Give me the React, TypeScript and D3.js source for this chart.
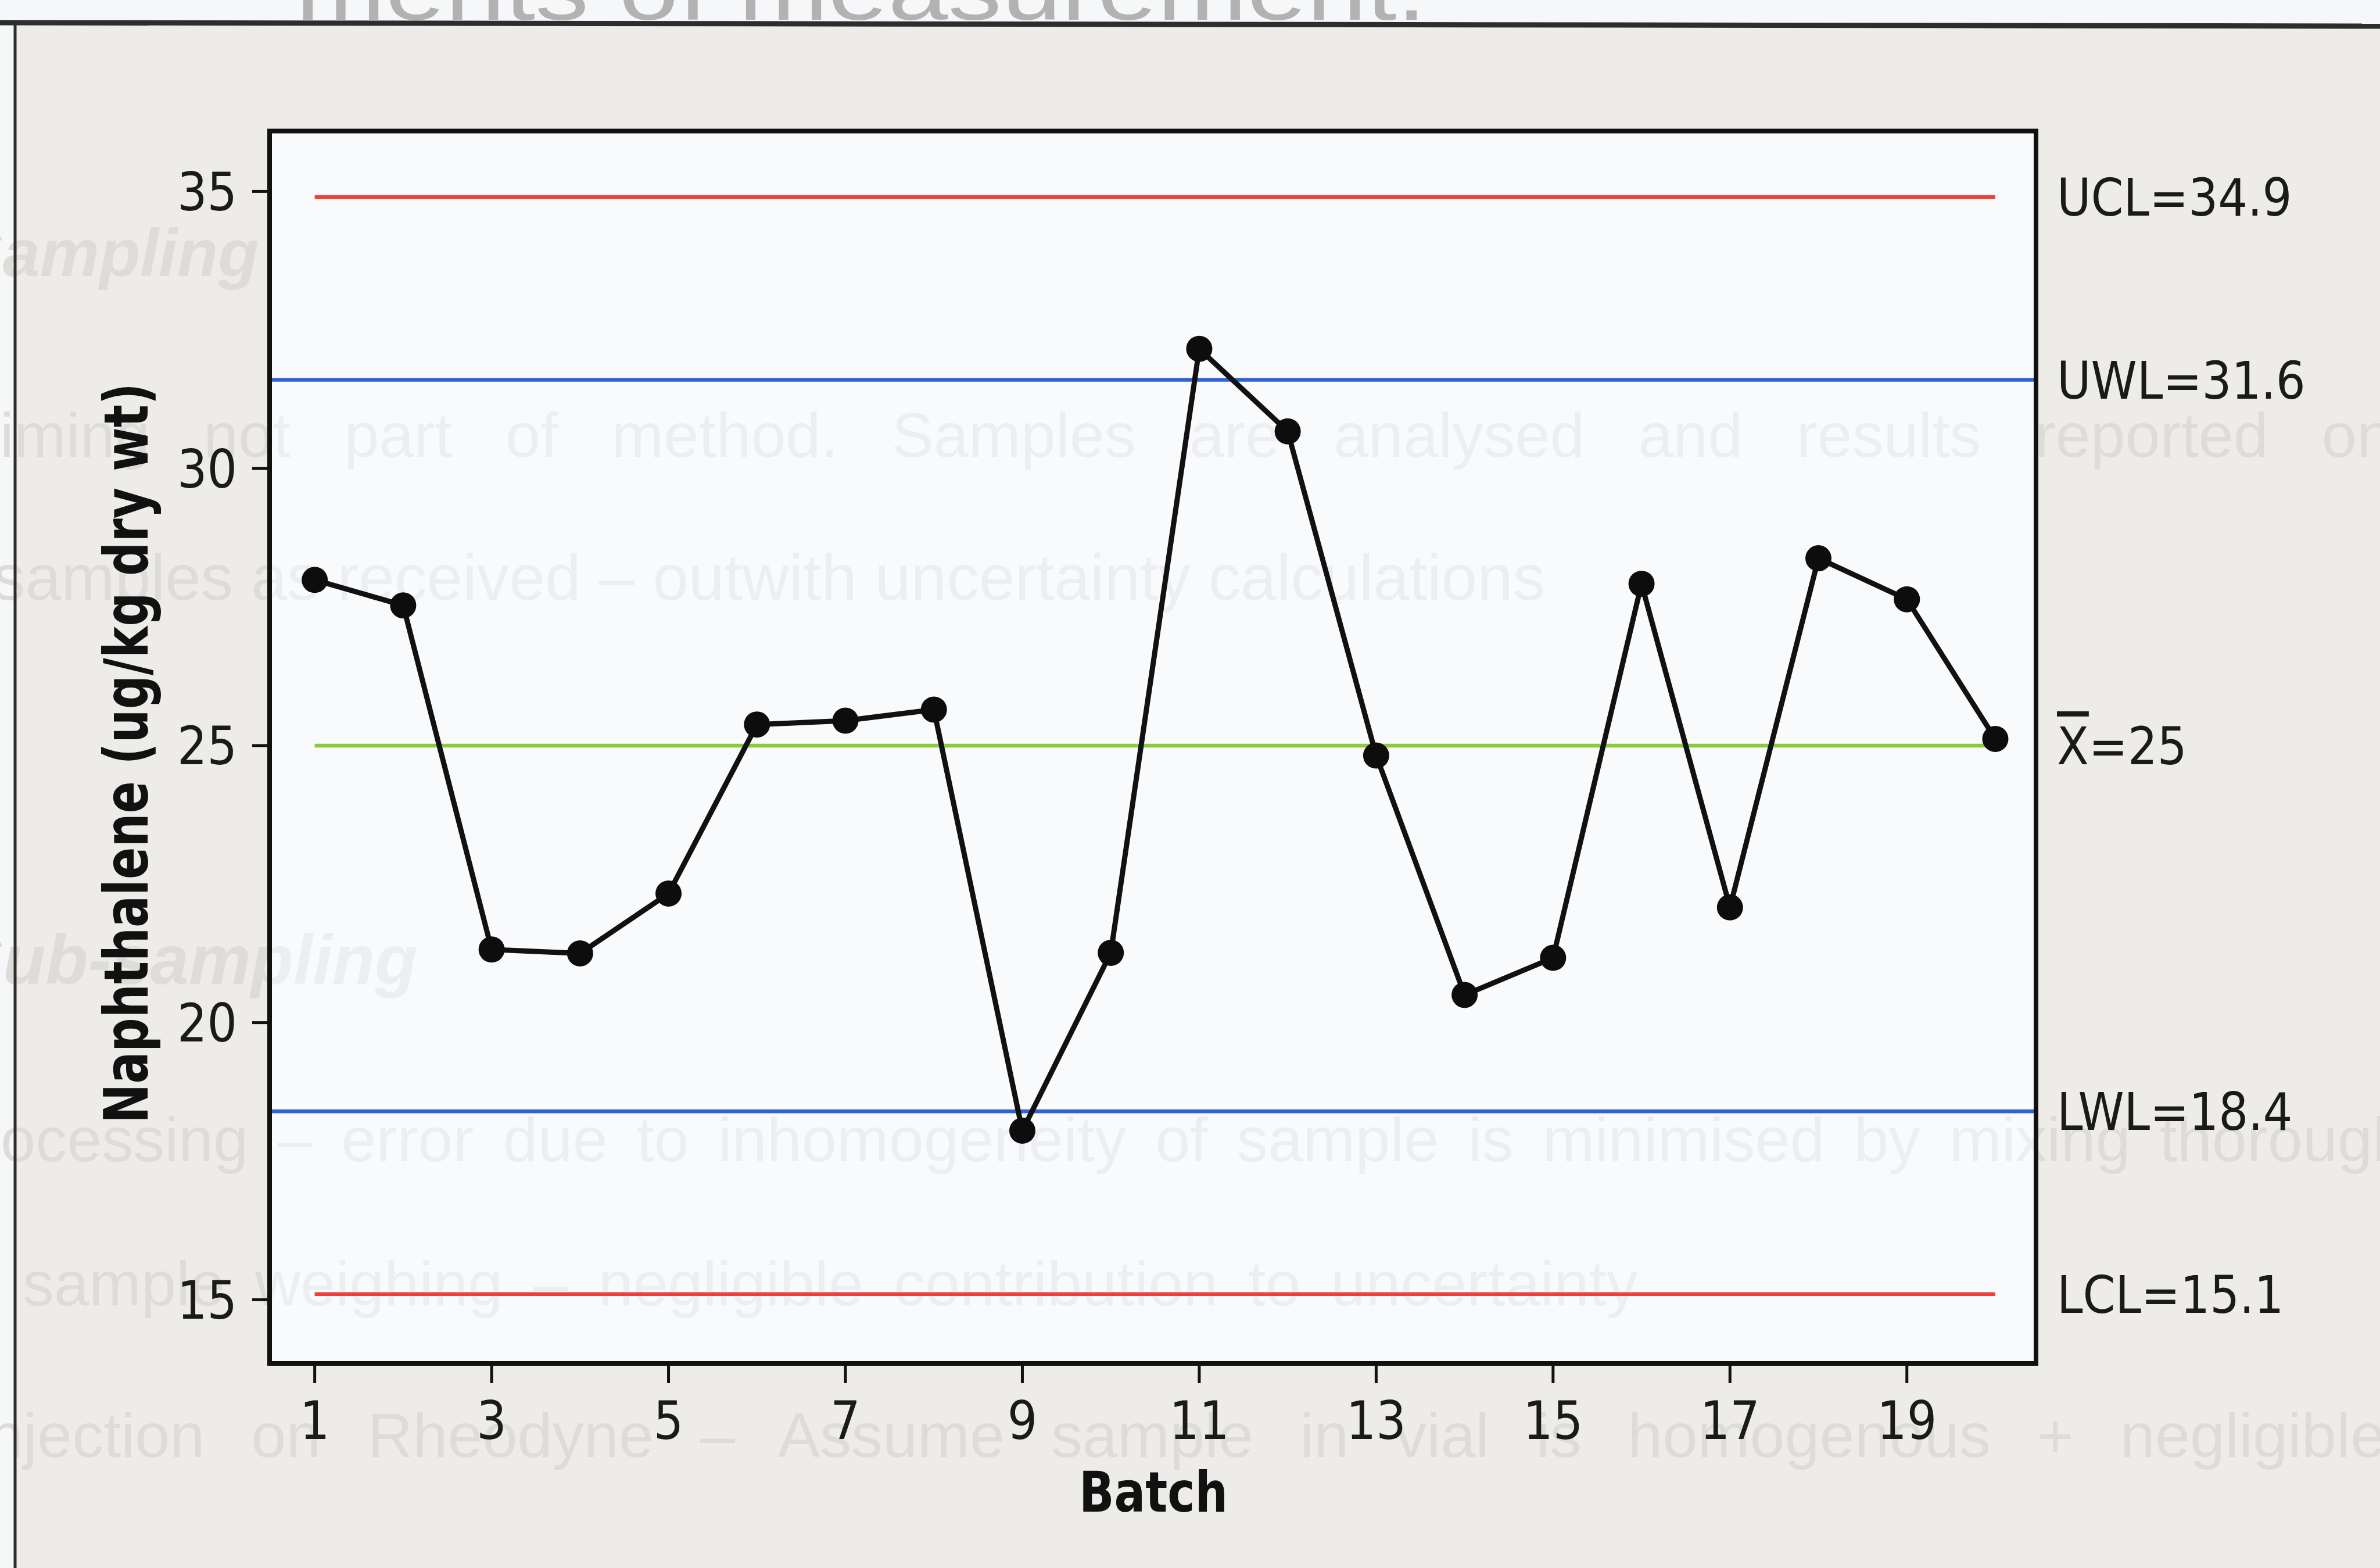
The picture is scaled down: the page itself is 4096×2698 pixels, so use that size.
import React from "react";
import * as d3 from "d3";

// Batch numbers and measured naphthalene concentrations (ug/kg dry wt)
const batches = [1, 2, 3, 4, 5, 6, 7, 8, 9, 10, 11, 12, 13, 14, 15, 16, 17, 18, 19, 20];
const naphthalene = [
  27.99, 27.53, 21.32, 21.25, 22.33, 25.38, 25.45, 25.65, 18.05, 21.26,
  32.16, 30.67, 24.82, 20.5, 21.17, 27.92, 22.08, 28.38, 27.64, 25.12,
];

// Control limits (red), warning limits (blue) and centre line (green)
const limitNames = ["UCL", "UWL", "X", "LWL", "LCL"];
const limitValues = [34.9, 31.6, 25, 18.4, 15.1];

const xTickValues = [1, 3, 5, 7, 9, 11, 13, 15, 17, 19];
const yTickValues = [15, 20, 25, 30, 35];

const xTitle = "Batch";
const yTitle = "Naphthalene (ug/kg dry wt)";

// Page text showing faintly through the sheet behind the chart
const pageLines = [
  { text: "Sampling", x: -72, y: 475, size: 115, italic: true, bold: true, ws: 0 },
  { text: "timing not part of method. Samples are analysed and results reported on", x: -30, y: 786, size: 108, italic: false, bold: false, ws: 62 },
  { text: "samples as received \u2013 outwith uncertainty calculations", x: -12, y: 1032, size: 111, italic: false, bold: false, ws: 0 },
  { text: "Sub-sampling", x: -75, y: 1693, size: 120, italic: true, bold: true, ws: 0 },
  { text: "processing \u2013 error due to inhomogeneity of sample is minimised by mixing thoroughly", x: -95, y: 1998, size: 108, italic: false, bold: false, ws: 20 },
  { text: "sample weighing \u2013 negligible contribution to uncertainty", x: 39, y: 2246, size: 108, italic: false, bold: false, ws: 22 },
  { text: "Injection on Rheodyne \u2013 Assume sample in vial is homogenous + negligible", x: -50, y: 2507, size: 108, italic: false, bold: false, ws: 50 },
];

const W = 4096;
const H = 2698;
const frame = { left: 464, right: 3504, top: 225.5, bottom: 2346 };

const FONT = "'DejaVu Sans Condensed', 'DejaVu Sans', Verdana, sans-serif";
const PAGE_FONT = "'Liberation Sans', Arial, sans-serif";

const RED = "#ee3f3c";
const BLUE = "#2f62d8";
const GREEN = "#8dca3a";

function PageText({ fill }: { fill: string }) {
  return (
    <g fill={fill} fontFamily={PAGE_FONT}>
      {pageLines.map((l, i) => (
        <text
          key={i}
          x={l.x}
          y={l.y}
          fontSize={l.size}
          fontStyle={l.italic ? "italic" : "normal"}
          fontWeight={l.bold ? "bold" : "normal"}
          style={{ wordSpacing: `${l.ws}px` }}
        >
          {l.text}
        </text>
      ))}
    </g>
  );
}

export default function App() {
  const x = d3.scaleLinear().domain([0.49, 20.46]).range([frame.left, frame.right]);
  const y = d3.scaleLinear().domain([13.85, 36.09]).range([frame.bottom, frame.top]);

  const path = d3
    .line<number>()
    .x((_, i) => x(batches[i]))
    .y((d) => y(d))(naphthalene);

  const firstBatch = batches[0];
  const lastBatch = batches[batches.length - 1];

  const limitStyle = (name: string) => {
    if (name === "UCL" || name === "LCL") return { color: RED, x1: x(firstBatch), x2: x(lastBatch) };
    if (name === "X") return { color: GREEN, x1: x(firstBatch), x2: x(lastBatch) };
    return { color: BLUE, x1: frame.left, x2: frame.right };
  };

  const fw = frame.right - frame.left;
  const fh = frame.bottom - frame.top;

  return (
    <svg
      width={W}
      height={H}
      viewBox={`0 0 ${W} ${H}`}
      style={{ position: "fixed", left: 0, top: 0, display: "block" }}
    >
      <defs>
        <clipPath id="plot-clip">
          <rect x={frame.left} y={frame.top} width={fw} height={fh} />
        </clipPath>
      </defs>

      {/* sheet */}
      <rect x={0} y={0} width={W} height={H} fill="#f6f7f9" />
      <text
        x={509}
        y={34}
        fontFamily={PAGE_FONT}
        fontSize={150}
        fill="#b2b2b2"
        textLength={1946}
        lengthAdjust="spacingAndGlyphs"
      >
        ments of measurement.
      </text>
      <rect x={26} y={42} width={W} height={H} fill="#eeece8" />
      <PageText fill="#dedcd8" />
      <line x1={0} y1={39} x2={W} y2={45} stroke="#2b2e2d" strokeWidth={9} />
      <line x1={26} y1={40} x2={26} y2={H} stroke="#2b2e2d" strokeWidth={5} />

      {/* plot area */}
      <rect x={frame.left} y={frame.top} width={fw} height={fh} fill="#f9fafc" />
      <g clipPath="url(#plot-clip)">
        <PageText fill="#eceef1" />
      </g>

      {/* limit lines */}
      {limitNames.map((name, i) => {
        const s = limitStyle(name);
        return (
          <line
            key={name}
            x1={s.x1}
            x2={s.x2}
            y1={y(limitValues[i])}
            y2={y(limitValues[i])}
            stroke={s.color}
            strokeWidth={6.5}
          />
        );
      })}

      {/* series */}
      <path d={path ?? ""} fill="none" stroke="#111" strokeWidth={9} strokeLinejoin="round" />
      {naphthalene.map((v, i) => (
        <circle key={i} cx={x(batches[i])} cy={y(v)} r={22.5} fill="#0d0d0d" />
      ))}

      {/* frame */}
      <rect
        x={frame.left}
        y={frame.top}
        width={fw}
        height={fh}
        fill="none"
        stroke="#111"
        strokeWidth={8}
      />

      {/* y axis */}
      <g fontFamily={FONT} fontSize={90} fill="#1a1a1a">
        {yTickValues.map((t) => (
          <g key={t}>
            <line x1={frame.left - 30} x2={frame.left} y1={y(t)} y2={y(t)} stroke="#111" strokeWidth={5} />
            <text x={408} y={y(t)} dy="0.36em" textAnchor="end">
              {t}
            </text>
          </g>
        ))}
      </g>

      {/* x axis */}
      <g fontFamily={FONT} fontSize={90} fill="#1a1a1a">
        {xTickValues.map((t) => (
          <g key={t}>
            <line x1={x(t)} x2={x(t)} y1={frame.bottom} y2={frame.bottom + 34} stroke="#111" strokeWidth={5} />
            <text x={x(t)} y={2476} textAnchor="middle">
              {t}
            </text>
          </g>
        ))}
      </g>

      {/* limit labels */}
      <g fontFamily={FONT} fontSize={89} fill="#1a1a1a">
        {limitNames.map((name, i) => (
          <text key={name} x={3540} y={y(limitValues[i])} dy="0.36em">
            {name === "X" ? (
              <>
                <tspan style={{ textDecoration: "overline" }}>X</tspan>
                {`=${limitValues[i]}`}
              </>
            ) : (
              `${name}=${limitValues[i]}`
            )}
          </text>
        ))}
      </g>

      {/* titles */}
      <text
        x={1985}
        y={2601}
        textAnchor="middle"
        fontFamily={FONT}
        fontWeight="bold"
        fontSize={96}
        fill="#111"
        textLength={256}
        lengthAdjust="spacingAndGlyphs"
      >
        {xTitle}
      </text>
      <text
        transform="translate(254,1296) rotate(-90)"
        textAnchor="middle"
        fontFamily={FONT}
        fontWeight="bold"
        fontSize={106}
        fill="#111"
        textLength={1274}
        lengthAdjust="spacingAndGlyphs"
      >
        {yTitle}
      </text>
    </svg>
  );
}
